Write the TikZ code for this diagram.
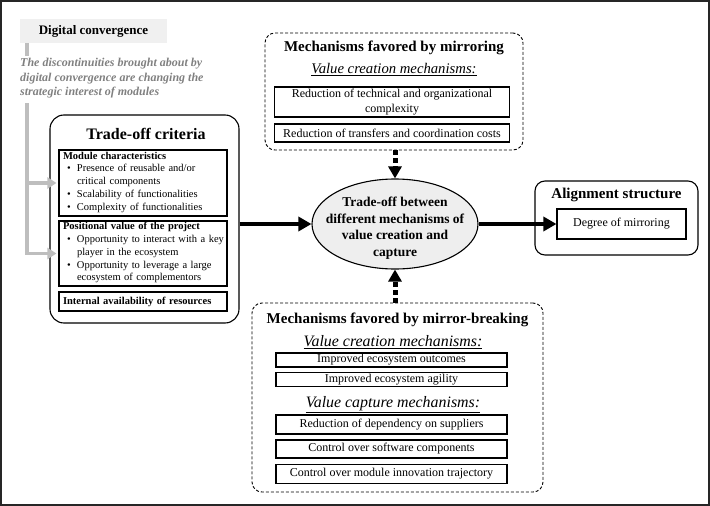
\documentclass[tikz,border=0pt]{standalone}
\usepackage{fontspec}
\setmainfont{Liberation Serif}
\usepackage{tikz}
\usetikzlibrary{arrows.meta,shapes.geometric}
\definecolor{mygray}{RGB}{190,190,190}
\definecolor{txtgray}{RGB}{128,128,128}
\definecolor{boxgray}{RGB}{240,240,240}
\definecolor{ellgray}{RGB}{238,238,238}
\newcommand{\bitem}[1]{\par\noindent\makebox[14pt][l]{\hspace{4pt}\textbullet}\parbox[t]{150pt}{\strut#1\strut}\par\prevdepth=\dp\strutbox}

\begin{document}
\begin{tikzpicture}[x=1pt,y=-1pt]
	\tikzstyle{bx}=[draw,line width=1.1pt,inner sep=1pt,align=center,font=\fontsize{12}{15}\selectfont];
	\tikzstyle{lbx}=[draw,line width=1.1pt,inner xsep=4pt,inner ysep=1pt,align=left,text width=160pt,minimum width=168pt,font=\fontsize{10.5}{12.8}\selectfont];
	\tikzstyle{rbox}=[draw,line width=1.1pt,rounded corners=14pt];
	\tikzstyle{dbox}=[draw,line width=0.9pt,dash pattern=on 3pt off 2pt,rounded corners=10pt];
	\tikzstyle{ttl}=[inner sep=0pt,font=\bfseries\fontsize{15}{18}\selectfont];
	\tikzstyle{sub}=[inner sep=0pt,font=\itshape\fontsize{14.7}{17}\selectfont];
	\tikzstyle{big}=[line width=4pt,-{Triangle[length=13pt,width=14pt]}];
	\tikzstyle{dot}=[line width=5pt,dash pattern=on 5pt off 3pt,-{Triangle[length=12pt,width=13pt]}];
	\tikzstyle{garr}=[mygray,line width=3.5pt,-{Triangle[length=9pt,width=11pt]},shorten >=2pt];
	\useasboundingbox (0,0) rectangle (710,506);
	\draw[line width=2pt,black!85] (1,1) rectangle (708.5,504.5);
	\node[fill=boxgray,minimum width=147pt,minimum height=24pt,font=\bfseries\fontsize{13}{15}\selectfont] (dc) at (93.5,31) {Digital convergence};
	\node[anchor=north west,inner sep=2pt,align=left,text=txtgray,font=\bfseries\itshape\fontsize{12}{14.5}\selectfont] (disc) at (18,56) {The discontinuities brought about by\\digital convergence are changing the\\strategic interest of modules};
	\node[rbox,minimum width=189pt,minimum height=208pt] (crit) at (144.5,219) {};
	\node[ttl,font=\bfseries\fontsize{16}{18}\selectfont] (critt) at (146,134) {Trade-off criteria};
	\node[lbx,minimum height=66pt] (mod) at (143,183) {\textbf{Module characteristics}\bitem{Presence of reusable and/or\\critical components}\bitem{Scalability of functionalities}\bitem{Complexity of functionalities}};
	\node[lbx,minimum height=65pt] (pos) at (143,253.5) {\textbf{Positional value of the project}\bitem{Opportunity to interact with a key\\player in the ecosystem}\bitem{Opportunity to leverage a large\\ecosystem of complementors}};
	\node[lbx,minimum height=19pt] (res) at (143,301.5) {\textbf{Internal availability of resources}};
	\node[dbox,minimum width=258pt,minimum height=117pt] (mir) at (394,91.5) {};
	\node[ttl] (mirt) at (394,48) {Mechanisms favored by mirroring};
	\node[sub] (mirs) at (394,70) {\underline{Value creation mechanisms:}};
	\node[bx,minimum width=235pt,minimum height=30pt] (m1) at (392,102) {Reduction of technical and organizational\\complexity};
	\node[bx,minimum width=235pt,minimum height=18pt] (m2) at (392,133) {Reduction of transfers and coordination costs};
	\node[ellipse,draw,line width=1.1pt,fill=ellgray,minimum width=166pt,minimum height=90pt] (ell) at (395,224) {};
	\node[align=center,font=\bfseries\fontsize{13.5}{16.5}\selectfont] (ellt) at ([yshift=-4pt]ell.center) {Trade-off between\\different mechanisms of\\value creation and\\capture};
	\node[rbox,rounded corners=10pt,minimum width=163pt,minimum height=74pt] (al) at (616.5,218) {};
	\node[ttl] (alt) at (616.5,195) {Alignment structure};
	\node[bx,minimum width=129pt,minimum height=30pt] (deg) at (621.5,224) {Degree of mirroring};
	\node[dbox,minimum width=291pt,minimum height=189pt] (brk) at (397.5,397.5) {};
	\node[ttl] (brkt) at (397.5,320) {Mechanisms favored by mirror-breaking};
	\node[sub,font=\itshape\fontsize{15.9}{18}\selectfont] (brks1) at (393,342) {\underline{Value creation mechanisms:}};
	\node[bx,minimum width=231pt,minimum height=14pt] (b1) at (391.5,360) {Improved ecosystem outcomes};
	\node[bx,minimum width=231pt,minimum height=14pt] (b2) at (391.5,379.7) {Improved ecosystem agility};
	\node[sub,font=\itshape\fontsize{15.9}{18}\selectfont] (brks2) at (393,405) {\underline{Value capture mechanisms:}};
	\node[bx,minimum width=231pt,minimum height=19pt] (b3) at (391.5,424.5) {Reduction of dependency on suppliers};
	\node[bx,minimum width=231pt,minimum height=18pt] (b4) at (391.5,449) {Control over software components};
	\node[bx,minimum width=231pt,minimum height=19pt] (b5) at (391.5,473.7) {Control over module innovation trajectory};
	\coordinate (gx) at (27,0);
	\draw[mygray,line width=3.5pt] (dc.south -| gx) -- (disc.north -| gx);
	\draw[garr,shorten <=3pt] (disc.south -| gx) |- (pos.west);
	\draw[garr] (gx |- mod.west) -- (mod.west);
	\draw[big] (crit.east |- ell.west) -- (ell.west);
	\draw[big] (ell.east) -- (deg.west);
	\draw[dot] (mir.south -| ell.north) -- (ell.north);
	\draw[dot] (brk.north -| ell.south) -- (ell.south);
\end{tikzpicture}
\end{document}
